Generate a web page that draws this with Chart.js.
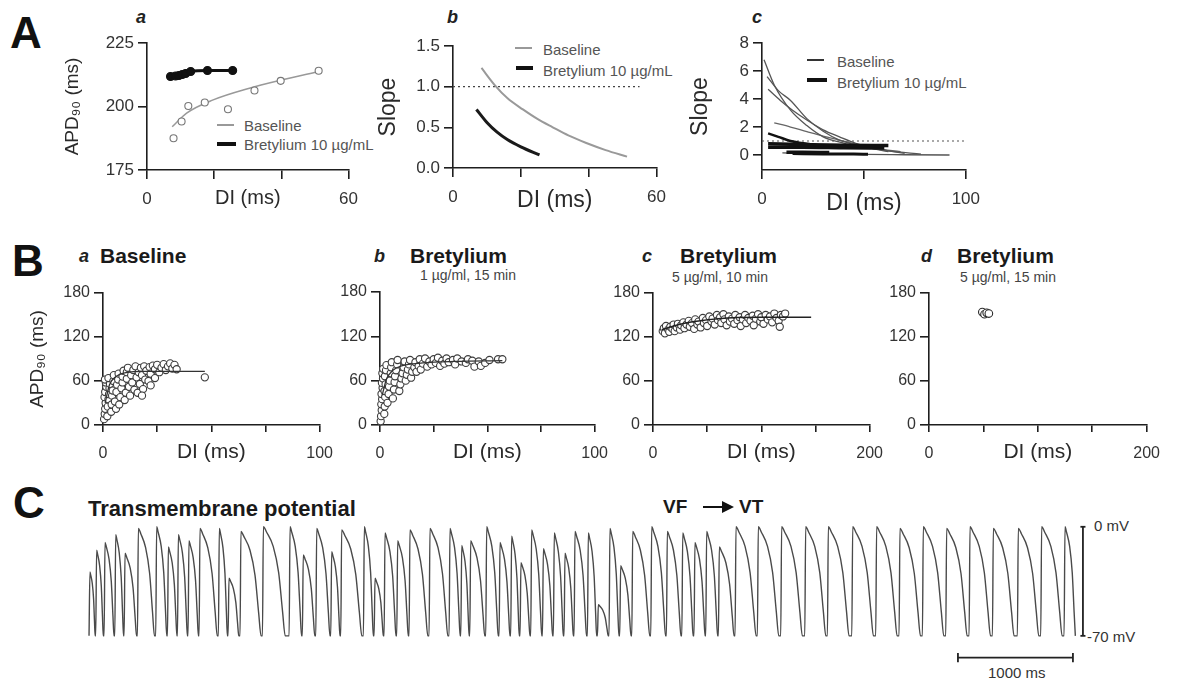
<!DOCTYPE html>
<html>
<head>
<meta charset="utf-8">
<script src="https://cdn.jsdelivr.net/npm/chart.js@4.4.1/dist/chart.umd.min.js"></script>
<style>
  body { margin: 0; width: 1182px; height: 680px; position: relative; overflow: hidden; background: #fff;
         font-family: 'Liberation Sans', Arial, sans-serif; color: #1a1a1a; }
  canvas { position: absolute; }
  .t { position: absolute; white-space: nowrap; line-height: 1; }
  .big { font-size: 44px; font-weight: bold; color: #111; }
  .sub { font-size: 18px; font-weight: bold; font-style: italic; color: #222; }
  .hd { font-size: 21px; font-weight: bold; color: #1a1a1a; }
  .cond { font-size: 14px; color: #444; }
  .lg { font-size: 15px; color: #555; }
  .sw { position: absolute; }
</style>
</head>
<body>
<!-- panel letters -->
<div class="t big" style="left:10px;top:11px">A</div>
<div class="t big" style="left:12px;top:239px">B</div>
<div class="t big" style="left:13px;top:481px">C</div>

<div class="t sub" style="left:136px;top:8px">a</div>
<div class="t sub" style="left:447px;top:8px">b</div>
<div class="t sub" style="left:752px;top:8px">c</div>

<!-- legends A -->
<div class="sw" style="left:217px;top:124px;width:17px;height:1.5px;background:#999"></div>
<div class="t lg" style="left:244px;top:118px">Baseline</div>
<div class="sw" style="left:217px;top:142px;width:19px;height:3.5px;background:#111"></div>
<div class="t lg" style="left:244px;top:137px">Bretylium 10 µg/mL</div>

<div class="sw" style="left:515px;top:47px;width:17px;height:1.5px;background:#999"></div>
<div class="t lg" style="left:543px;top:42px">Baseline</div>
<div class="sw" style="left:516px;top:66px;width:17px;height:3.5px;background:#111"></div>
<div class="t lg" style="left:543px;top:63px">Bretylium 10 µg/mL</div>

<div class="sw" style="left:807px;top:59px;width:17px;height:1.5px;background:#333"></div>
<div class="t lg" style="left:837px;top:54px">Baseline</div>
<div class="sw" style="left:807px;top:78px;width:20px;height:3.5px;background:#111"></div>
<div class="t lg" style="left:837px;top:75px">Bretylium 10 µg/mL</div>

<!-- headers B -->
<div class="t sub" style="left:79px;top:247px">a</div>
<div class="t hd" style="left:100px;top:245px">Baseline</div>
<div class="t sub" style="left:374px;top:247px">b</div>
<div class="t hd" style="left:410px;top:245px">Bretylium</div>
<div class="t cond" style="left:420px;top:268px">1 µg/ml, 15 min</div>
<div class="t sub" style="left:642px;top:247px">c</div>
<div class="t hd" style="left:680px;top:245px">Bretylium</div>
<div class="t cond" style="left:672px;top:270px">5 µg/ml, 10 min</div>
<div class="t sub" style="left:921px;top:247px">d</div>
<div class="t hd" style="left:957px;top:245px">Bretylium</div>
<div class="t cond" style="left:960px;top:270px">5 µg/ml, 15 min</div>

<!-- panel C texts -->
<div class="t hd" style="left:88px;top:498px;font-size:22px">Transmembrane potential</div>
<div class="t hd" style="left:663px;top:497px;font-size:19px">VF</div>
<div class="sw" style="left:703px;top:506px;width:22px;height:2px;background:#111"></div>
<div class="sw" style="left:722px;top:501px;width:0;height:0;border-top:6px solid transparent;border-bottom:6px solid transparent;border-left:12px solid #111"></div>
<div class="t hd" style="left:739px;top:497px;font-size:19px">VT</div>
<div class="t" style="left:1094px;top:518px;font-size:15px;color:#333">0 mV</div>
<div class="t" style="left:1087px;top:629px;font-size:15px;color:#333">-70 mV</div>
<div class="t" style="left:988px;top:665px;font-size:15px;color:#333">1000 ms</div>

<script>
// ---- A a : restitution, APD90 vs DI
const aaBaseDI = [7.9, 10.3, 12.3, 17.2, 24.1, 32, 39.8, 51.1];
const aaBaseAPD = [187.5, 194.1, 200.2, 201.6, 198.9, 206.3, 210.1, 214.1];
const aaBaseFitDI = [7.5, 11.8, 19.7, 30.5, 40.3, 51.1];
const aaBaseFitAPD = [192, 197.4, 202.6, 207.2, 210.5, 213.8];
const aaBretDI = [7, 8.5, 9.5, 10.5, 11.5, 13, 18, 25.5];
const aaBretAPD = [211.8, 212, 212.2, 212.6, 213, 213.8, 214.2, 214.2];
const aaXTicks = [0, 20, 40, 60], aaXLabels = ['0', '', '', '60'];
const aaYTicks = [175, 200, 225], aaYLabels = ['175', '200', '225'];

// ---- A b : slope of restitution
const abBaseDI = [8.4, 12.3, 16, 20.6, 25, 29.4, 34, 39.1, 45, 51.3];
const abBaseSlope = [1.23, 1.02, 0.86, 0.72, 0.6, 0.5, 0.4, 0.31, 0.22, 0.14];
const abBretDI = [6.9, 10, 13, 16, 20, 25.5];
const abBretSlope = [0.72, 0.56, 0.44, 0.35, 0.26, 0.16];
const abRefDI = [0, 55], abRefSlope = [1, 1];
const abXTicks = [0, 20, 40, 60], abXLabels = ['0', '', '', '60'];
const abYTicks = [0, 0.5, 1, 1.5], abYLabels = ['0.0', '0.5', '1.0', '1.5'];

// ---- A c : slopes, all preparations
const acBase1DI = [1, 6, 14, 22, 30, 40, 49, 62, 78];
const acBase1S = [6.8, 5.0, 3.2, 2.1, 1.3, 0.85, 0.6, 0.3, 0.07];
const acBase2DI = [2.5, 8, 14, 22, 30, 38, 50, 62];
const acBase2S = [5.6, 4.6, 3.9, 2.6, 1.7, 1.07, 0.6, 0.24];
const acBase3DI = [3, 9, 15, 22, 30, 38, 46, 58, 70];
const acBase3S = [4.7, 3.9, 3.2, 2.5, 1.8, 1.3, 0.84, 0.4, 0.12];
const acBase4DI = [6, 14, 22, 30, 38, 47, 56, 68];
const acBase4S = [2.3, 2.0, 1.67, 1.35, 1.07, 0.75, 0.48, 0.24];
const acBase5DI = [10, 30, 50, 70, 92];
const acBase5S = [0.15, 0.08, 0.04, 0.02, 0];
const acBret1DI = [3, 8, 14, 22, 30], acBret1S = [1.55, 1.3, 1.0, 0.8, 0.65];
const acBret2DI = [3, 20, 40, 62], acBret2S = [0.8, 0.75, 0.7, 0.68];
const acBret3DI = [3, 20, 40, 60], acBret3S = [0.55, 0.55, 0.52, 0.5];
const acBret4DI = [12, 20, 33], acBret4S = [0.2, 0.2, 0.18];
const acBret5DI = [15, 30, 45, 52], acBret5S = [0.1, 0.08, 0.07, 0.06];
const acRefDI = [0, 100], acRefS = [1, 1];
const acXTicks = [0, 50, 100], acXLabels = ['0', '', '100'];
const acYTicks = [0, 2, 4, 6, 8], acYLabels = ['0', '2', '4', '6', '8'];

// ---- B : APD90 vs DI scatter
const baDI = [0.5,0.8,1,1.2,0.7,1,1.5,1.3,0.9,2,2.2,2.5,2.8,3,3.2,2.5,3.8,4,4.2,4.5,4.8,5,5.5,6,6.2,6.5,7,7.2,7.5,8,8.5,9,9,9.5,10,10.5,11,11,11.5,12,12.5,13,13.5,14,14.5,15,15.5,16,16.5,17,17.5,18,18.5,19,19.5,20,21,21.5,22,23,24,24,25,26,27,28,29,30,31,32,33,34,47,22,18];
const baAPD = [8,15,22,30,38,45,52,58,62,12,25,35,42,50,56,64,18,28,40,47,60,68,32,22,45,55,62,70,28,38,50,58,66,74,34,44,63,72,78,52,40,68,58,75,48,80,65,44,72,56,78,68,49,80,62,74,60,79,70,81,64,76,82,72,78,83,75,80,84,77,82,76,65,54,40];
const baFitDI = [1, 3, 6, 10, 20, 47], baFitAPD = [30, 55, 66, 71, 73, 73];

const bbDI = [0.3,0.5,0.8,0.6,1,0.7,1.2,0.9,1.4,1.1,1.5,2,2.2,2.4,2.1,2.6,2.3,2.8,3,3.5,4,4.2,4.5,5,5.2,5.5,6,6.5,6.8,7,7.5,8,8.2,9,9.5,10,10.5,11,11.5,12,12.5,13,13.5,14,14.5,15,16,16.5,17,18,18.5,19,20,21,22,23,24,25,26,27,28,29,30,31,32,34,35,36,38,40,41,43,44,46,47,49,51,55,57];
const bbAPD = [5,12,20,28,35,42,50,57,63,70,76,15,25,38,46,55,66,74,81,30,42,52,60,70,78,85,36,48,58,66,74,82,88,46,55,63,70,78,86,60,68,75,82,88,64,72,78,85,72,80,89,75,83,90,79,86,82,89,84,91,80,87,83,90,85,88,82,90,86,84,89,87,79,86,80,84,88,89,89];
const bbFitDI = [1, 3, 6, 10, 20, 35, 57], bbFitAPD = [40, 62, 74, 80, 84, 86, 87];

const bcDI = [9,10,11,12,14,15,16,18,19,20,22,23,25,26,28,29,31,33,34,36,38,39,41,42,44,46,47,49,50,52,54,55,57,59,60,62,63,65,66,68,70,71,73,75,76,78,80,81,83,85,86,88,90,92,93,95,97,99,100,102,104,106,108,110,112,114,116,118,117,120,122];
const bcAPD = [128,132,125,135,130,127,134,131,137,128,133,138,130,136,140,132,137,142,134,139,131,144,137,141,133,146,139,143,135,148,141,145,137,150,143,147,139,151,144,136,148,141,145,138,150,143,147,135,144,150,139,146,142,149,136,145,151,141,147,138,150,144,148,140,152,146,142,150,134,148,152];
const bcFitDI = [8, 30, 60, 100, 146], bcFitAPD = [130, 139, 145, 147, 147];

const bdDI = [49, 51, 53, 55], bdAPD = [154, 151, 153, 152];

const b100XTicks = [0, 25, 50, 75, 100], b100XLabels = ['0', '', '', '', '100'];
const b200XTicks = [0, 50, 100, 150, 200], b200XLabels = ['0', '', '', '', '200'];
const bYTicks = [0, 60, 120, 180], bYLabels = ['0', '60', '120', '180'];

// ---- C : transmembrane potential (beat onset ms, peak mV, duration ms)
const beatTime = [17,75,148,241,322,438,597,699,786,878,
  974,1142,1226,1330,1525,1757,1872,1989,2119,2206,
  2403,2496,2583,2693,2800,2974,3148,3250,3328,3467,
  3583,3684,3765,3858,3960,4055,4148,4235,4351,4438,
  4539,4632,4737,4902,5038,5172,5278,5380,5490,5635,
  5829,6032,6241,6438,6650,6858,7061,7264,7467,7670,
  7873,8090,8293,8496];
const beatPeak = [-29,-15,-10,-5,-17,-1,0,-13,-5,-9,
  -1,-1,-33,-3,0,0,-18,-1,-16,-2,
  0,-33,-4,-9,-2,-1,-1,-12,-9,0,
  -10,-6,-23,-2,-14,-4,-17,-3,-4,-50,
  -1,-25,-3,0,-3,-4,-10,-3,-13,0,
  0,0,0,0,0,0,-1,0,-1,0,
  -1,-1,0,0];
const beatDur = [45,58,78,68,100,140,88,74,78,82,
  150,70,85,175,190,100,100,115,72,175,
  78,72,95,92,155,155,88,64,122,100,
  86,66,78,88,80,78,72,100,72,86,
  78,90,148,120,118,90,88,95,128,175,
  178,180,175,180,180,178,178,178,178,178,
  180,178,178,90];
const restMv = -70;
const scaleBarMs = [7565, 8565];   // 1000 ms bar
const scaleBarMv = [0, -70];       // 0 .. -70 mV bar

Chart.defaults.font.family = "'Liberation Sans', Arial, sans-serif";
Chart.defaults.animation = false;

function pts(xs, ys) { return xs.map((x, i) => ({ x: x, y: ys[i] })); }

function line(xs, ys, color, width, dash) {
  return { data: pts(xs, ys), showLine: true, pointRadius: 0, borderColor: color, borderWidth: width,
           borderDash: dash || [], cubicInterpolationMode: 'monotone', clip: false };
}

function dots(xs, ys, border, fill, r) {
  return { data: pts(xs, ys), showLine: false, pointRadius: r, pointBorderWidth: 1.1,
           borderColor: border, backgroundColor: fill, clip: false };
}

function axis(min, max, ticks, labels, o) {
  return {
    type: 'linear', min: min, max: max,
    afterBuildTicks: s => { s.ticks = ticks.map(v => ({ value: v })); },
    ticks: { autoSkip: false, maxRotation: 0, padding: o.pad, color: '#333', font: { size: o.size },
             callback: (v, i) => labels[i] },
    grid: { drawOnChartArea: false, tickLength: o.tick, color: '#1e1e1e', lineWidth: 1.6 },
    border: { color: '#1e1e1e', width: 1.6 },
    title: o.title ? { display: true, text: o.title, color: '#2a2a2a', font: { size: o.tsize }, padding: 0 }
                   : { display: false }
  };
}

function panel(box, area, xs, ys, datasets) {
  const cv = document.createElement('canvas');
  cv.width = box.w; cv.height = box.h;
  cv.style.left = box.x + 'px'; cv.style.top = box.y + 'px';
  document.body.appendChild(cv);
  xs.afterFit = s => { s.height = box.y + box.h - area.b; };
  ys.afterFit = s => { s.width = area.l - box.x; };
  return new Chart(cv, {
    type: 'scatter',
    data: { datasets: datasets },
    options: {
      responsive: false, animation: false,
      layout: { padding: { top: area.t - box.y, right: box.x + box.w - area.r, left: 0, bottom: 0 } },
      plugins: { legend: { display: false }, tooltip: { enabled: false } },
      scales: { x: xs, y: ys }
    }
  });
}

const xA = { pad: 10, size: 17, tick: 9 };
const yA = { pad: 4, size: 17, tick: 9 };

// A a
panel({ x: 61, y: 25, w: 307, h: 185 }, { l: 147, r: 350, t: 43, b: 170 },
  axis(0, 60, aaXTicks, aaXLabels, Object.assign({ title: 'DI (ms)', tsize: 20 }, xA)),
  axis(175, 225, aaYTicks, aaYLabels, Object.assign({ title: 'APD₉₀ (ms)', tsize: 19 }, yA)),
  [
    dots(aaBretDI, aaBretAPD, '#111', '#111', 4),
    line(aaBretDI, aaBretAPD, '#111', 3),
    dots(aaBaseDI, aaBaseAPD, '#777', '#fff', 3.5),
    line(aaBaseFitDI, aaBaseFitAPD, '#999', 1.5)
  ]);

// A b
panel({ x: 375, y: 25, w: 301, h: 189 }, { l: 453, r: 658, t: 46, b: 168 },
  axis(0, 60, abXTicks, abXLabels, Object.assign({ title: 'DI (ms)', tsize: 23 }, xA)),
  axis(0, 1.5, abYTicks, abYLabels, Object.assign({ title: 'Slope', tsize: 23 }, yA)),
  [
    line(abBretDI, abBretSlope, '#1a1a1a', 3),
    line(abBaseDI, abBaseSlope, '#999', 2),
    line(abRefDI, abRefSlope, '#444', 1.2, [2, 3])
  ]);

// A c
panel({ x: 687, y: 25, w: 303, h: 192 }, { l: 762, r: 968, t: 43, b: 170 },
  axis(0, 100, acXTicks, acXLabels, Object.assign({ title: 'DI (ms)', tsize: 23 }, xA)),
  axis(-1.07, 8, acYTicks, acYLabels, Object.assign({ title: 'Slope', tsize: 23 }, yA)),
  [
    line(acBret1DI, acBret1S, '#111', 2.5),
    line(acBret2DI, acBret2S, '#111', 3.5),
    line(acBret3DI, acBret3S, '#111', 3.5),
    line(acBret4DI, acBret4S, '#111', 3.5),
    line(acBret5DI, acBret5S, '#111', 3),
    line(acBase1DI, acBase1S, '#555', 1.3),
    line(acBase2DI, acBase2S, '#555', 1.3),
    line(acBase3DI, acBase3S, '#555', 1.3),
    line(acBase4DI, acBase4S, '#666', 1.3),
    line(acBase5DI, acBase5S, '#555', 1.3),
    line(acRefDI, acRefS, '#555', 1.2, [2, 3])
  ]);

const xB = { pad: 12, size: 16, tick: 7 };
const yB = { pad: 4, size: 16, tick: 9 };

// B a
panel({ x: 26, y: 270, w: 319, h: 195 }, { l: 103, r: 323, t: 293, b: 425 },
  axis(0, 100, b100XTicks, b100XLabels, Object.assign({ title: 'DI (ms)', tsize: 21 }, xB)),
  axis(0, 180, bYTicks, bYLabels, Object.assign({ title: 'APD₉₀ (ms)', tsize: 19 }, yB)),
  [ line(baFitDI, baFitAPD, '#333', 1.3), dots(baDI, baAPD, '#3c3c3c', '#fff', 3.6) ]);

// B b
panel({ x: 330, y: 270, w: 290, h: 195 }, { l: 380, r: 598, t: 292, b: 425 },
  axis(0, 100, b100XTicks, b100XLabels, Object.assign({ title: 'DI (ms)', tsize: 21 }, xB)),
  axis(0, 180, bYTicks, bYLabels, yB),
  [ line(bbFitDI, bbFitAPD, '#333', 1.3), dots(bbDI, bbAPD, '#3c3c3c', '#fff', 3.6) ]);

// B c
panel({ x: 603, y: 270, w: 292, h: 195 }, { l: 653, r: 873, t: 293, b: 425 },
  axis(0, 200, b200XTicks, b200XLabels, Object.assign({ title: 'DI (ms)', tsize: 21 }, xB)),
  axis(0, 180, bYTicks, bYLabels, yB),
  [ line(bcFitDI, bcFitAPD, '#222', 1.5), dots(bcDI, bcAPD, '#3c3c3c', '#fff', 3.6) ]);

// B d
panel({ x: 879, y: 270, w: 293, h: 195 }, { l: 929, r: 1150, t: 293, b: 425 },
  axis(0, 200, b200XTicks, b200XLabels, Object.assign({ title: 'DI (ms)', tsize: 21 }, xB)),
  axis(0, 180, bYTicks, bYLabels, yB),
  [ dots(bdDI, bdAPD, '#2a2a2a', '#fff', 3.8) ]);

// C : trace built from the beat table (dome-shaped action potentials)
const trace = [];
beatTime.forEach((t, i) => {
  const amp = beatPeak[i] - restMv, d = beatDur[i];
  trace.push({ x: t - 8, y: restMv });
  trace.push({ x: t, y: beatPeak[i] });
  trace.push({ x: t + 0.15 * d, y: restMv + 0.95 * amp });
  trace.push({ x: t + 0.45 * d, y: restMv + 0.82 * amp });
  trace.push({ x: t + 0.7 * d, y: restMv + 0.58 * amp });
  trace.push({ x: t + 0.88 * d, y: restMv + 0.22 * amp });
  trace.push({ x: t + d, y: restMv });
});

const barX = scaleBarMs[1] + 87;  // vertical bar sits right of the trace
const barY = -84;                  // horizontal bar below the trace
const segs = [
  [[scaleBarMs[0], barY], [scaleBarMs[1], barY]],
  [[scaleBarMs[0], barY + 3], [scaleBarMs[0], barY - 3]],
  [[scaleBarMs[1], barY + 3], [scaleBarMs[1], barY - 3]],
  [[barX, scaleBarMv[0]], [barX, scaleBarMv[1]]],
  [[barX - 22, scaleBarMv[0]], [barX + 22, scaleBarMv[0]]],
  [[barX - 22, scaleBarMv[1]], [barX + 22, scaleBarMv[1]]]
];

const cCanvas = document.createElement('canvas');
cCanvas.width = 1010; cCanvas.height = 148;
cCanvas.style.left = '88px'; cCanvas.style.top = '519px';
document.body.appendChild(cCanvas);
new Chart(cCanvas, {
  type: 'scatter',
  data: {
    datasets: [
      { data: trace, showLine: true, pointRadius: 0, borderColor: '#4a4a4a', borderWidth: 1.4,
        cubicInterpolationMode: 'monotone', clip: false }
    ].concat(segs.map(s => ({
      data: s.map(p => ({ x: p[0], y: p[1] })), showLine: true, pointRadius: 0,
      borderColor: '#222', borderWidth: 1.8, clip: false
    })))
  },
  options: {
    responsive: false, animation: false,
    layout: { padding: 0 },
    plugins: { legend: { display: false }, tooltip: { enabled: false } },
    scales: {
      x: { type: 'linear', min: 0, max: 8783, display: false },
      y: { type: 'linear', min: -90, max: 5, display: false }
    }
  }
});
</script>
</body>
</html>
